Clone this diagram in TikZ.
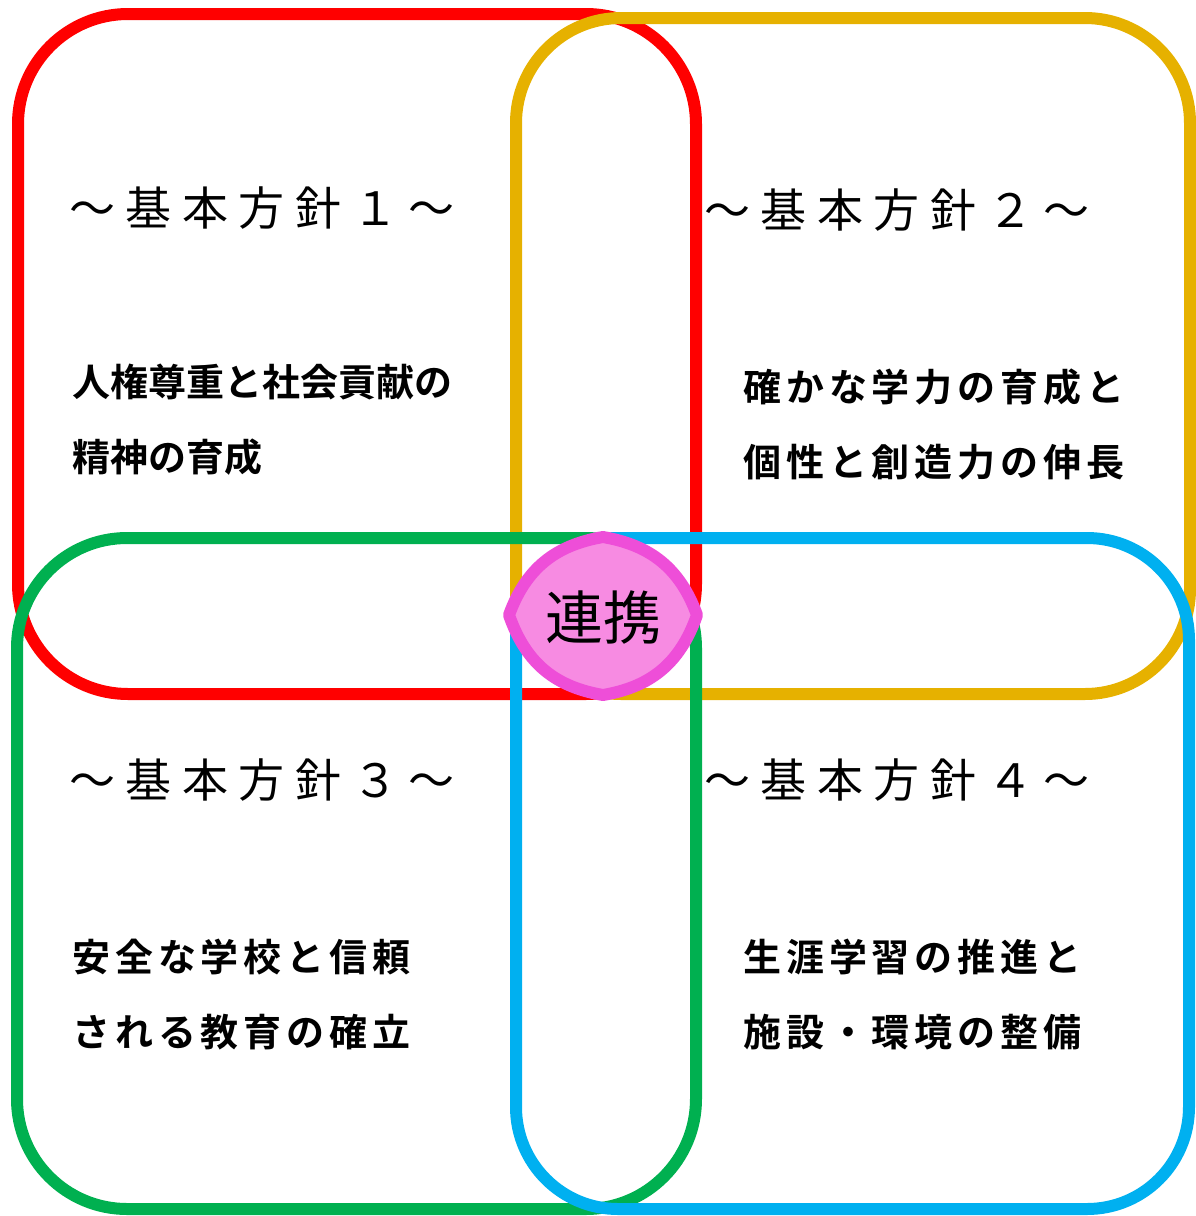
\documentclass[tikz,border=0pt]{standalone}
\usepackage{fontspec}
\newfontfamily\jptitle[LetterSpace=23]{Noto Sans CJK JP}
\newfontfamily\jpbody[LetterSpace=13]{Noto Sans CJK JP Bold}
\newfontfamily\jpbodytight{Noto Sans CJK JP Bold}
\newfontfamily\jpcenter{Noto Sans CJK JP}
\usetikzlibrary{calc}
\definecolor{hoshinred}{HTML}{FF0000}
\definecolor{hoshingold}{HTML}{E6B100}
\definecolor{hoshingreen}{HTML}{00B050}
\definecolor{hoshinblue}{HTML}{00B0F0}
\definecolor{renkeifill}{HTML}{F78BE2}
\definecolor{renkeiline}{HTML}{EE4ED8}
\tikzset{
  waku/.style={line width=12pt, rounded corners=#1},
  midashi/.style={font=\jptitle\fontsize{46}{46}\selectfont, inner sep=0pt},
  honbun/.style={font=\jpbody\fontsize{38}{75}\selectfont, align=left, anchor=west, inner sep=0pt},
  renkei/.style={line width=12pt, draw=renkeiline, fill=renkeifill, line join=round},
}

\begin{document}
\begin{tikzpicture}[x=1pt, y=-1pt]
			%%%%% START %%%%%
			\useasboundingbox (0, 0) rectangle (1196, 1216);
			
			\draw[waku=110pt, color=hoshinred] (18, 14) rectangle (696, 694);
			\draw[waku=105pt, color=hoshingold] (516, 18) rectangle (1190, 694);
			\draw[waku=110pt, color=hoshingreen] (17, 538) rectangle (696, 1209);
			\draw[waku=102pt, color=hoshinblue] (516, 538) rectangle (1189, 1209);
			
			\node[midashi] (midashi1) at (262, 208) {～基本方針１～};
			\node[midashi] (midashi2) at (897, 210) {～基本方針２～};
			\node[midashi] (midashi3) at (262, 780) {～基本方針３～};
			\node[midashi] (midashi4) at (897, 780) {～基本方針４～};
			
			\node[honbun, font=\jpbodytight\fontsize{38}{75}\selectfont] (honbun1) at (72, 420) {人権尊重と社会貢献の\\精神の育成};
			\node[honbun] (honbun2) at (743, 424) {確かな学力の育成と\\個性と創造力の伸長};
			\node[honbun] (honbun3) at (72, 995) {安全な学校と信頼\\される教育の確立};
			\node[honbun] (honbun4) at (743, 995) {生涯学習の推進と\\施設・環境の整備};
			
			\coordinate (renT) at (603, 537);
			\coordinate (renR) at (697, 615);
			\coordinate (renB) at (603, 695);
			\coordinate (renL) at (509, 615);
			\draw[renkei] (renT) .. controls (650, 545) and (680, 568) .. (renR)
				.. controls (680, 664) and (650, 687) .. (renB)
				.. controls (556, 687) and (526, 664) .. (renL)
				.. controls (526, 568) and (556, 545) .. (renT) -- cycle;
			\node[font=\jpcenter\fontsize{58}{58}\selectfont, inner sep=0pt] (renkei) at (603, 618) {連携};
			
			%%%%% END %%%%%
\end{tikzpicture}
\end{document}
